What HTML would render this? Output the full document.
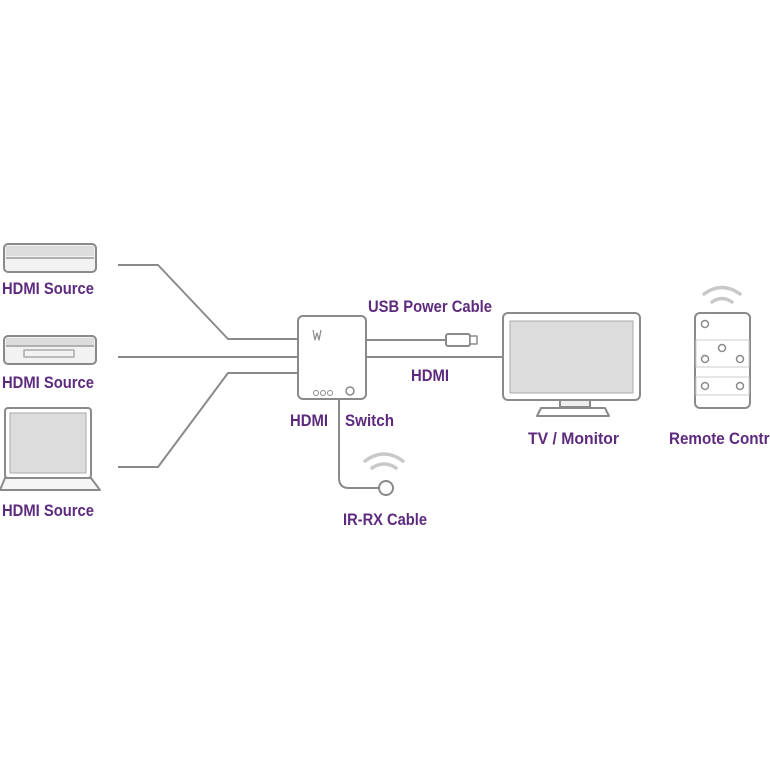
<!DOCTYPE html>
<html><head><style>
html,body{margin:0;padding:0;background:#fff;width:770px;height:770px;overflow:hidden}
text{font-family:"Liberation Sans",sans-serif;font-weight:bold;fill:#5e2a7e;font-size:17px}
</style></head><body>
<svg width="770" height="770" viewBox="0 0 770 770" xmlns="http://www.w3.org/2000/svg">
<g fill="none" stroke="#8a8a8a" stroke-width="2" stroke-linejoin="round">
<!-- source 1 -->
<rect x="4" y="244" width="92" height="28" rx="4" fill="#f2f2f2"/>
<rect x="6" y="246" width="88" height="10" fill="#dcdcdc" stroke="none"/>
<line x1="6" y1="258" x2="94" y2="258" stroke="#b0b0b0"/>
<!-- source 2 -->
<rect x="4" y="336" width="92" height="28" rx="4" fill="#f2f2f2"/>
<rect x="6" y="338" width="88" height="7" fill="#dcdcdc" stroke="none"/>
<line x1="6" y1="346" x2="94" y2="346" stroke="#b0b0b0"/>
<rect x="24" y="350" width="50" height="7" stroke="#aaa" stroke-width="1.5"/>
<!-- laptop -->
<rect x="5" y="408" width="86" height="70" rx="3" fill="#fff"/>
<rect x="10" y="413" width="76" height="60" fill="#dcdcdc" stroke="#aaa" stroke-width="1"/>
<path d="M5 478 L91 478 L100 490 L0 490 Z" fill="#f6f6f6"/>
<!-- connectors -->
<polyline points="118,265 158,265 228,339 298,339"/>
<polyline points="118,357 298,357"/>
<polyline points="118,467 158,467 228,373 298,373"/>
<!-- switch -->
<rect x="298" y="316" width="68" height="83" rx="5" fill="#fff"/>
<circle cx="316" cy="393" r="2.5" stroke-width="1"/>
<circle cx="323" cy="393" r="2.5" stroke-width="1"/>
<circle cx="330" cy="393" r="2.5" stroke-width="1"/>
<circle cx="350" cy="391" r="4" stroke-width="1.5"/>
<path d="M313 330 l2 10 l2 -7 l2 7 l2 -10" stroke-width="1.2"/>
<!-- IR cable -->
<path d="M339 399 L339 478 Q339 488 349 488 L379 488"/>
<circle cx="386" cy="488" r="7" fill="#fff"/>
<g stroke="#c8c8c8" stroke-width="3.5" stroke-linecap="round">
<path d="M372 468 Q384 460 396 468"/>
<path d="M365 461 Q384 447 403 461"/>
</g>
<!-- USB -->
<line x1="366" y1="340" x2="446" y2="340"/>
<rect x="446" y="334" width="24" height="12" rx="2" fill="#fff"/>
<rect x="470" y="336" width="7" height="8" fill="#fff" stroke-width="1.5"/>
<!-- HDMI out -->
<line x1="366" y1="357" x2="503" y2="357"/>
<!-- TV -->
<rect x="503" y="313" width="137" height="87" rx="5" fill="#fff"/>
<rect x="510" y="321" width="123" height="72" fill="#dcdcdc" stroke="#aaa" stroke-width="1"/>
<rect x="560" y="400" width="30" height="7" fill="#eee"/>
<path d="M541 408 L605 408 L609 416 L537 416 Z" fill="#fff"/>
<!-- remote -->
<rect x="695" y="313" width="55" height="95" rx="5" fill="#fff"/>
<rect x="696" y="340" width="53" height="27" stroke="#ccc" stroke-width="1"/>
<rect x="696" y="377" width="53" height="18" stroke="#ccc" stroke-width="1"/>
<g stroke-width="1.5">
<circle cx="705" cy="324" r="3.5"/><circle cx="722" cy="348" r="3.5"/>
<circle cx="705" cy="359" r="3.5"/><circle cx="740" cy="359" r="3.5"/>
<circle cx="705" cy="386" r="3.5"/><circle cx="740" cy="386" r="3.5"/>
</g>
<g stroke="#c8c8c8" stroke-width="3.5" stroke-linecap="round">
<path d="M712 302 Q722 295 732 302"/>
<path d="M704 294 Q722 281 740 294"/>
</g>
</g>
<text x="2" y="294" textLength="92" lengthAdjust="spacingAndGlyphs">HDMI Source</text>
<text x="2" y="388" textLength="92" lengthAdjust="spacingAndGlyphs">HDMI Source</text>
<text x="2" y="516" textLength="92" lengthAdjust="spacingAndGlyphs">HDMI Source</text>
<text x="368" y="312" textLength="124" lengthAdjust="spacingAndGlyphs">USB Power Cable</text>
<text x="411" y="381" textLength="38" lengthAdjust="spacingAndGlyphs">HDMI</text>
<text x="290" y="426" textLength="38" lengthAdjust="spacingAndGlyphs">HDMI</text>
<text x="345" y="426" textLength="49" lengthAdjust="spacingAndGlyphs">Switch</text>
<text x="343" y="525" textLength="84" lengthAdjust="spacingAndGlyphs">IR-RX Cable</text>
<text x="528" y="444" textLength="91" lengthAdjust="spacingAndGlyphs">TV / Monitor</text>
<text x="669" y="444" textLength="114" lengthAdjust="spacingAndGlyphs">Remote Control</text>
</svg>
</body></html>
